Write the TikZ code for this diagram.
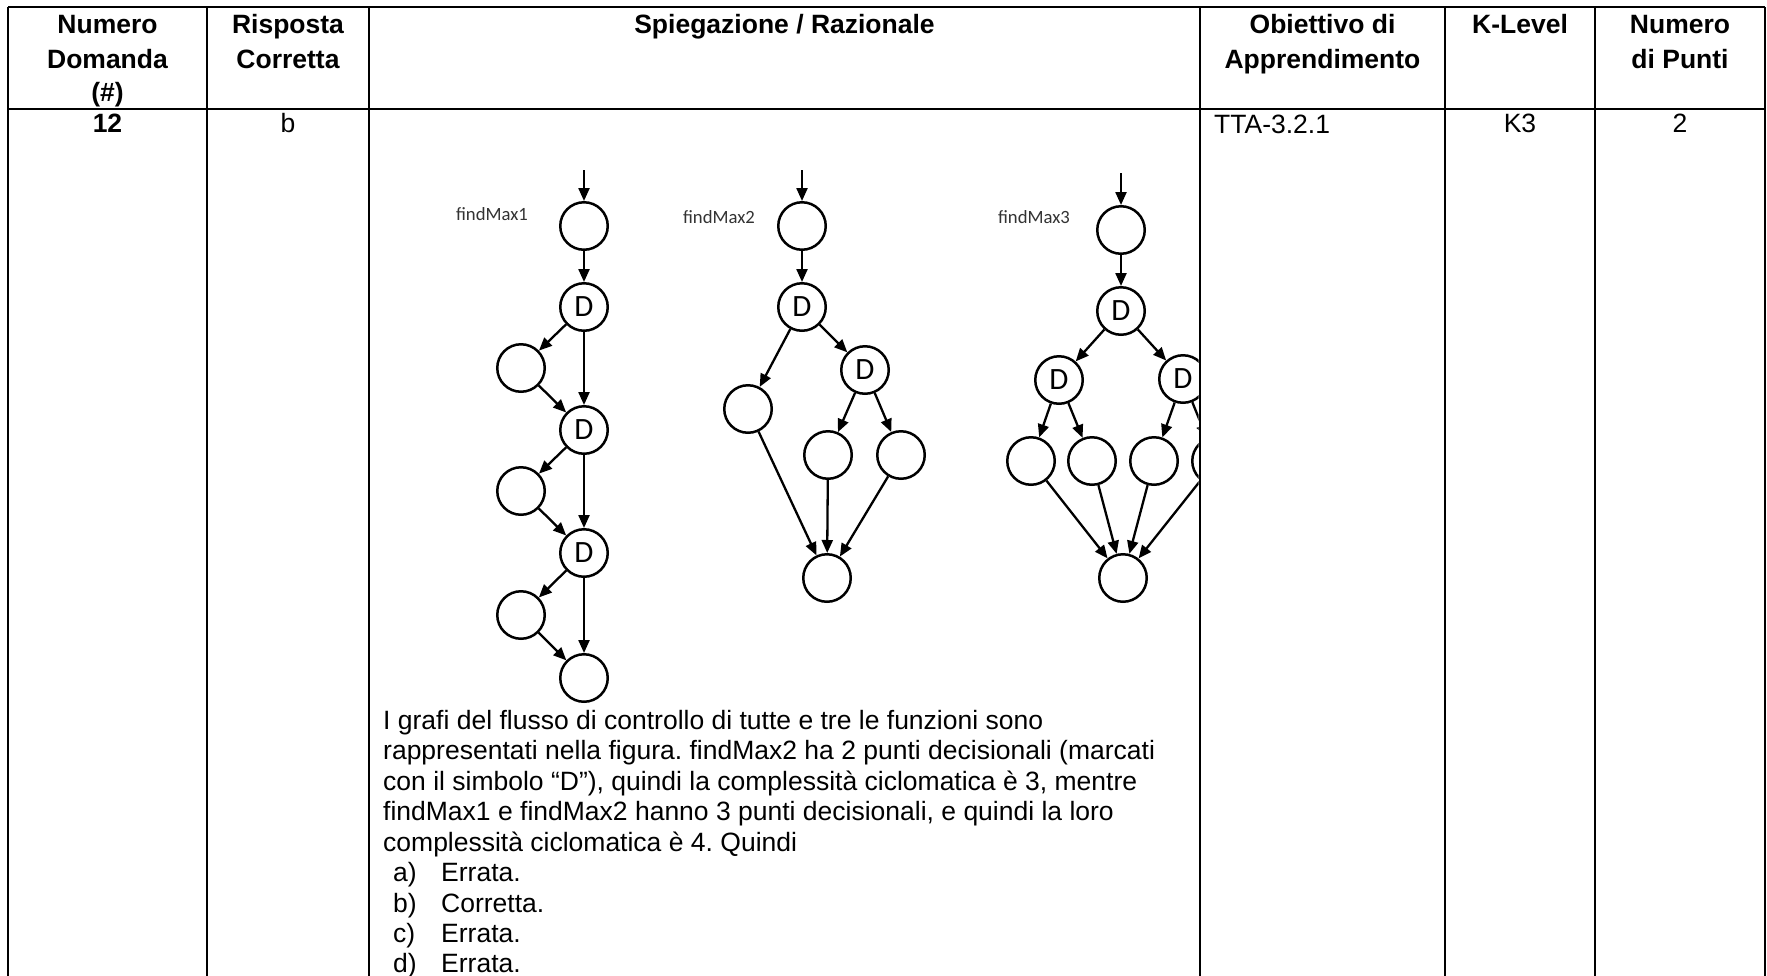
\documentclass[tikz,border=0pt]{standalone}
\usepackage{fontspec}
\setmainfont{Liberation Sans}
\newfontfamily\calfont{Carlito}
\usetikzlibrary{arrows.meta}
\frenchspacing
\begin{document}
\begin{tikzpicture}[x=1pt,y=-1pt,
  tbl/.style={line width=2.8pt},
  hd/.style={font=\fontsize{26.5}{31}\selectfont\bfseries, anchor=base, inner sep=0},
  tc/.style={font=\fontsize{26.5}{31}\selectfont, anchor=base, inner sep=0},
  tx/.style={font=\fontsize{26.5}{31}\selectfont, anchor=base west, inner sep=0},
  cn/.style={circle, draw, line width=2.5pt, minimum size=47.5pt, inner sep=0pt, font=\calfont\fontsize{31}{31}\selectfont},
  ed/.style={line width=2.3pt, -{Triangle[length=13pt,width=11pt]}},
  lb/.style={font=\calfont\fontsize{18.7}{20}\selectfont, text=black!80, inner sep=0pt}
]
\useasboundingbox (0,0) rectangle (1767,975);
\fill[white] (0,0) rectangle (1767,975);

% ---------- graphs ----------
\begin{scope}
\clip (369,109) rectangle (1198.6,975);
% findMax1
\node[lb] (lab1) at (492,214) {findMax1};
\coordinate (in1) at (584,170);
\node[cn] (a1) at (584,226) {};
\node[cn] (a2) at (584,307) {D};
\node[cn] (a3) at (521,368) {};
\node[cn] (a4) at (584,430) {D};
\node[cn] (a5) at (521,491) {};
\node[cn] (a6) at (584,553) {D};
\node[cn] (a7) at (521,615) {};
\node[cn] (a8) at (584,678) {};
\draw[ed] (in1) -- (a1);
\draw[ed] (a1) -- (a2);
\draw[ed] (a2) -- (a3);
\draw[ed] (a2) -- (a4);
\draw[ed] (a3) -- (a4);
\draw[ed] (a4) -- (a5);
\draw[ed] (a4) -- (a6);
\draw[ed] (a5) -- (a6);
\draw[ed] (a6) -- (a7);
\draw[ed] (a6) -- (a8);
\draw[ed] (a7) -- (a8);
% findMax2
\node[lb] (lab2) at (719,217) {findMax2};
\coordinate (in2) at (802,170);
\node[cn] (b1) at (802,226) {};
\node[cn] (b2) at (802,307) {D};
\node[cn] (b3) at (748,409) {};
\node[cn] (b4) at (865,370) {D};
\node[cn] (b5) at (828,455) {};
\node[cn] (b6) at (901,455) {};
\node[cn] (b7) at (827,578) {};
\draw[ed] (in2) -- (b1);
\draw[ed] (b1) -- (b2);
\draw[ed] (b2) -- (b3);
\draw[ed] (b2) -- (b4);
\draw[ed] (b4) -- (b5);
\draw[ed] (b4) -- (b6);
\draw[ed] (b3) -- (b7);
\draw[ed] (b5) -- (b7);
\draw[ed] (b6) -- (b7);
% findMax3
\node[lb] (lab3) at (1034,217) {findMax3};
\coordinate (in3) at (1121,173);
\node[cn] (c1) at (1121,230) {};
\node[cn] (c2) at (1121,311) {D};
\node[cn] (c3) at (1059,380) {D};
\node[cn] (c4) at (1183,379) {D};
\node[cn] (c5) at (1031,461) {};
\node[cn] (c6) at (1092,461) {};
\node[cn] (c7) at (1154,461) {};
\node[cn] (c8) at (1216,461) {};
\node[cn] (c9) at (1123,578) {};
\draw[ed] (in3) -- (c1);
\draw[ed] (c1) -- (c2);
\draw[ed] (c2) -- (c3);
\draw[ed] (c2) -- (c4);
\draw[ed] (c3) -- (c5);
\draw[ed] (c3) -- (c6);
\draw[ed] (c4) -- (c7);
\draw[ed] (c4) -- (c8);
\draw[ed] (c5) -- (c9);
\draw[ed] (c6) -- (c9);
\draw[ed] (c7) -- (c9);
\draw[ed] (c8) -- (c9);
\end{scope}

% ---------- table lines ----------
\draw[tbl] (8,7) -- (1765,7);
\draw[tbl] (8,109) -- (1765,109);
\foreach \xx in {8,207,369,1200,1445,1595,1765}
  \draw[tbl] (\xx,7) -- (\xx,976);

% ---------- header ----------
\node[hd] (h1a) at (107.5,33.5) {Numero};
\node[hd] (h1b) at (107.5,68) {Domanda};
\node[hd] (h1c) at (107.5,101) {(\#)};
\node[hd] (h2a) at (288,33.5) {Risposta};
\node[hd] (h2b) at (288,68) {Corretta};
\node[hd] (h3) at (784.5,33.5) {Spiegazione / Razionale};
\node[hd] (h4a) at (1322.5,33.5) {Obiettivo di};
\node[hd] (h4b) at (1322.5,68) {Apprendimento};
\node[hd] (h5) at (1520,33.5) {K-Level};
\node[hd] (h6a) at (1680,33.5) {Numero};
\node[hd] (h6b) at (1680,68) {di Punti};

% ---------- row ----------
\node[hd] (r1) at (107.5,132) {12};
\node[tc] (r2) at (288,132) {b};
\node[tx] (r4) at (1214,133) {TTA-3.2.1};
\node[tc] (r5) at (1520,132) {K3};
\node[tc] (r6) at (1680,132) {2};

% ---------- explanation ----------
\node[tx] (t1) at (383,729) {I grafi del flusso di controllo di tutte e tre le funzioni sono};
\node[tx] (t2) at (383,759.5) {rappresentati nella figura. findMax2 ha 2 punti decisionali (marcati};
\node[tx] (t3) at (383,790) {con il simbolo “D”), quindi la complessità ciclomatica è 3, mentre};
\node[tx] (t4) at (383,820.5) {findMax1 e findMax2 hanno 3 punti decisionali, e quindi la loro};
\node[tx] (t5) at (383,851) {complessità ciclomatica è 4. Quindi};
\node[tx] (la) at (393,881.5) {a)};
\node[tx] (lat) at (441,881.5) {Errata.};
\node[tx] (lb) at (393,912) {b)};
\node[tx] (lbt) at (441,912) {Corretta.};
\node[tx] (lc) at (393,942) {c)};
\node[tx] (lct) at (441,942) {Errata.};
\node[tx] (ld) at (393,972) {d)};
\node[tx] (ldt) at (441,972) {Errata.};
\end{tikzpicture}
\end{document}
